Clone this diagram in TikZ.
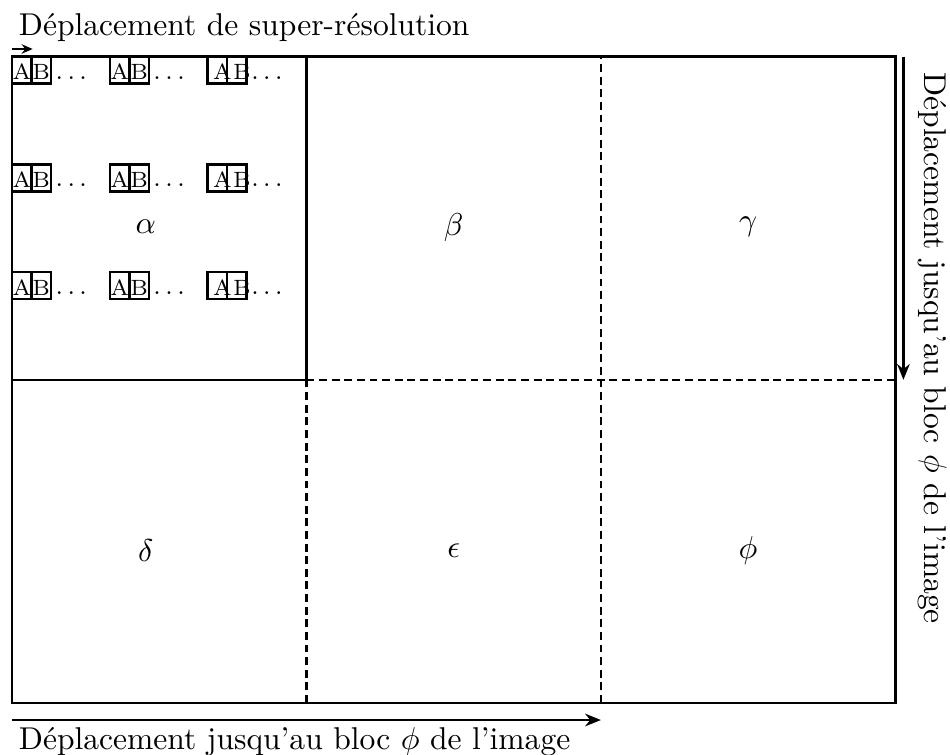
\documentclass[tikz,border=0pt]{standalone}
\usetikzlibrary{arrows.meta}

\begin{document}
\begin{tikzpicture}[
  grid/.style={thick},
  cut/.style={thick, dash pattern=on 2.5pt off 1.5pt},
  arr/.style={-{Stealth[length=5pt, width=4pt]}, thick},
  pix/.style={thick},
  letter/.style={font=\scriptsize, inner sep=0pt, anchor=base},
  caption/.style={anchor=base west, inner sep=0pt},
]
  \useasboundingbox (-0.134,-0.579) rectangle (10.449,7.831);

  % Blocks of the image
  \draw[grid] (0,0) rectangle (9.84,7.2);
  \draw[grid] (0,3.6) -- (3.28,3.6) -- (3.28,7.2);
  \draw[cut] (3.28,3.6) -- (9.84,3.6);
  \draw[cut] (3.28,0) -- (3.28,3.6);
  \draw[cut] (6.56,0) -- (6.56,7.2);

  \node (alpha) at (1.49,5.3) {$\alpha$};
  \node (beta) at (4.92,5.3) {$\beta$};
  \node (gamma) at (8.2,5.3) {$\gamma$};
  \node (delta) at (1.49,1.7) {$\delta$};
  \node (eps) at (4.92,1.7) {$\epsilon$};
  \node (phi) at (8.2,1.7) {$\phi$};

  % Super-resolution positions inside block alpha
  \foreach \r in {0,1,2} {
    \foreach \c/\dx in {0/0, 1/0, 2/0.056} {
      \draw[pix] (\c*1.09, 7.2-\r*1.2) rectangle ++(0.217,-0.3);
      \draw[pix] (\c*1.09+0.217, 7.2-\r*1.2) rectangle ++(0.217,-0.3);
      \node[letter] (a\r\c) at (\c*1.09+0.109+\dx, 7.2-\r*1.2-0.26) {A};
      \node[letter] (b\r\c) at (\c*1.09+0.326+\dx, 7.2-\r*1.2-0.26) {B};
      \node[letter, font=\footnotesize] (d\r\c) at (\c*1.09+0.66, 7.2-\r*1.2-0.25) {$\ldots$};
    }
  }

  % Super-resolution shift
  \coordinate (sr0) at (0,7.285);
  \coordinate (sr1) at (0.23,7.285);
  \draw[arr, -{Stealth[length=3.5pt, width=3pt]}] (sr0) -- (sr1);
  \node[caption] (srtext) at (0.07,7.44) {Déplacement de super-résolution};

  % Shift over the blocks
  \coordinate (h0) at (0,-0.19);
  \coordinate (h1) at (6.56,-0.19);
  \draw[arr] (h0) -- (h1);
  \node[caption] (htext) at (0.07,-0.52) {Déplacement jusqu'au bloc $\phi$ de l'image};

  \coordinate (v0) at (9.93,7.2);
  \coordinate (v1) at (9.93,3.6);
  \draw[arr] (v0) -- (v1);
  \node[caption, rotate=-90] (vtext) at (10.17,7.03) {Déplacement jusqu'au bloc $\phi$ de l'image};
\end{tikzpicture}
\end{document}
